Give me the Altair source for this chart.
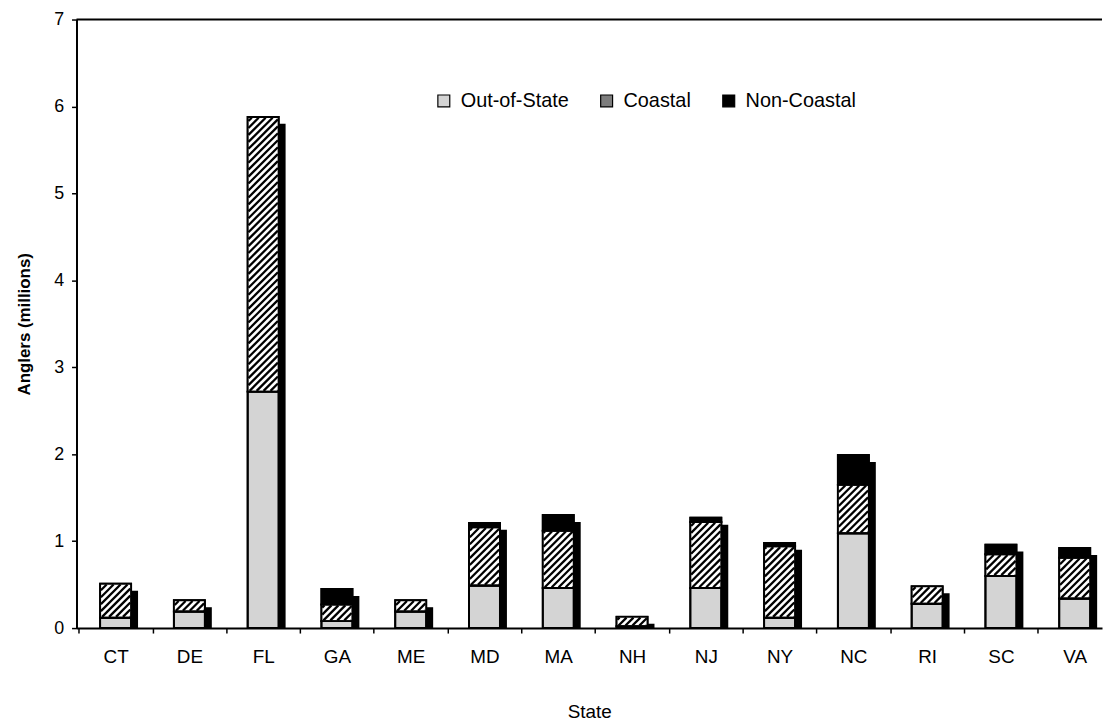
import altair as alt
import pandas as pd
import numpy as np

# ---- data ----
states = ["CT", "DE", "FL", "GA", "ME", "MD", "MA", "NH", "NJ", "NY", "NC", "RI", "SC", "VA"]
out_of_state = [0.12, 0.19, 2.72, 0.08, 0.19, 0.49, 0.46, 0.02, 0.46, 0.12, 1.09, 0.28, 0.60, 0.34]
coastal      = [0.39, 0.13, 3.16, 0.19, 0.13, 0.67, 0.66, 0.11, 0.76, 0.82, 0.56, 0.20, 0.25, 0.47]
non_coastal  = [0.00, 0.00, 0.00, 0.18, 0.00, 0.05, 0.18, 0.00, 0.05, 0.04, 0.34, 0.00, 0.11, 0.11]
series = ["Out-of-State", "Coastal", "Non-Coastal"]
series_colors = ["#d4d4d4", "#7d7d7d", "#000000"]

# ---- layout ----
W, H = 1033, 613
XMIN, XMAX = -0.53, 13.37
YMAX = 7
HALF = 0.21            # half bar width in category units
PX_X = W / (XMAX - XMIN)
PX_Y = H / YMAX
HATCH_STEP = 7.0       # px between hatch lines
SHADOW = 7

# ---- derived tables ----
rows = []
for i, s in enumerate(states):
    lo = 0.0
    for name, vals in zip(series, [out_of_state, coastal, non_coastal]):
        v = vals[i]
        if v > 0:
            rows.append({"state": s, "idx": i, "series": name, "lo": lo, "hi": lo + v,
                         "xl": i - HALF, "xr": i + HALF})
        lo += v
seg = pd.DataFrame(rows)

tot = pd.DataFrame({
    "idx": list(range(len(states))),
    "hi": [a + b + c for a, b, c in zip(out_of_state, coastal, non_coastal)],
})
tot["xl"] = tot["idx"] - HALF
tot["xr"] = tot["idx"] + HALF
tot["lo"] = 0.0

# hatch lines ("/") inside the coastal segments
hrows = []
wpx = 2 * HALF * PX_X
for _, r in seg[seg["series"] == "Coastal"].iterrows():
    hpx = (r["hi"] - r["lo"]) * PX_Y
    for c in np.arange(-wpx + 2, hpx, HATCH_STEP):
        u0 = max(0.8, -c + 0.8)
        u1 = min(wpx - 0.8, hpx - c - 0.8)
        if u1 - u0 > 0.3:
            hrows.append({"xl": r["xl"] + u0 / PX_X, "xr": r["xl"] + u1 / PX_X,
                          "lo": r["lo"] + (u0 + c) / PX_Y, "hi": r["lo"] + (u1 + c) / PX_Y})
hatch = pd.DataFrame(hrows)

xscale = alt.Scale(domain=[XMIN, XMAX], nice=False, zero=False)
yscale = alt.Scale(domain=[0, YMAX], nice=False)

label_expr = "[" + ",".join("'%s'" % s for s in states) + "][round(datum.value + 0.5)]"

x_axis = alt.Axis(
    values=[i - 0.5 for i in range(len(states))],
    labelExpr=label_expr,
    labelOffset=PX_X / 2,
    labelFontSize=19,
    labelPadding=15,
    labelOverlap=False,
    labelFlush=False,
    labelBound=False,
    tickSize=5,
    title="State",
    titleFontSize=19,
    titleFontWeight="normal",
    titlePadding=36,
    grid=False,
)
y_axis = alt.Axis(
    values=list(range(0, YMAX + 1)),
    labelFontSize=18,
    labelPadding=8,
    tickSize=5,
    title="Anglers (millions)",
    titleFontSize=17,
    titleFontWeight="bold",
    titlePadding=20,
    grid=False,
)

X = alt.X("xl:Q", scale=xscale, axis=x_axis, title="State")
X2 = alt.X2("xr:Q")
Y = alt.Y("lo:Q", scale=yscale, axis=y_axis, title="Anglers (millions)")
Y2 = alt.Y2("hi:Q")

shadow = alt.Chart(tot).mark_bar(color="black", xOffset=SHADOW, x2Offset=SHADOW, y2Offset=SHADOW).encode(
    x=X, x2=X2, y=Y, y2=Y2,
)

bars = alt.Chart(seg).mark_bar(stroke="black", strokeWidth=1.8).encode(
    x=X, x2=X2, y=Y, y2=Y2,
    color=alt.Color("series:N",
                    scale=alt.Scale(domain=series, range=series_colors),
                    sort=series,
                    legend=alt.Legend(
                        title=None, orient="none", direction="horizontal",
                        legendX=360, legendY=72,
                        symbolType="square", symbolSize=144,
                        symbolStrokeColor="black", symbolStrokeWidth=1.2,
                        labelFontSize=20, labelOffset=7, columnPadding=28,
                        symbolOpacity=1,
                    )),
)

coastal_white = alt.Chart(seg[seg["series"] == "Coastal"]).mark_bar(color="white").encode(
    x=X, x2=X2, y=Y, y2=Y2,
)

hatch_lines = alt.Chart(hatch).mark_rule(color="black", strokeWidth=2.3).encode(
    x=X, x2=X2, y=Y, y2=Y2,
)

outline = alt.Chart(seg).mark_bar(fill=None, fillOpacity=0, stroke="black", strokeWidth=2).encode(
    x=X, x2=X2, y=Y, y2=Y2,
)

top_border = alt.Chart(pd.DataFrame({"k": [0]})).mark_rule(color="black", strokeWidth=2).encode(
    x=alt.value(0), x2=alt.value(W), y=alt.value(0)
)

chart = alt.layer(shadow, bars, coastal_white, hatch_lines, outline, top_border).properties(
    width=W, height=H,
    padding={"left": 7, "top": 0, "right": 0, "bottom": 0},
).configure(
    font="Liberation Sans",
).configure_view(
    stroke=None,
).configure_axis(
    domainColor="black", domainWidth=2, tickColor="black", tickWidth=1.5,
    labelColor="black", titleColor="black",
).configure_legend(
    labelColor="black",
)

chart.save("out.html", embed_options={"renderer": "svg", "actions": False})
